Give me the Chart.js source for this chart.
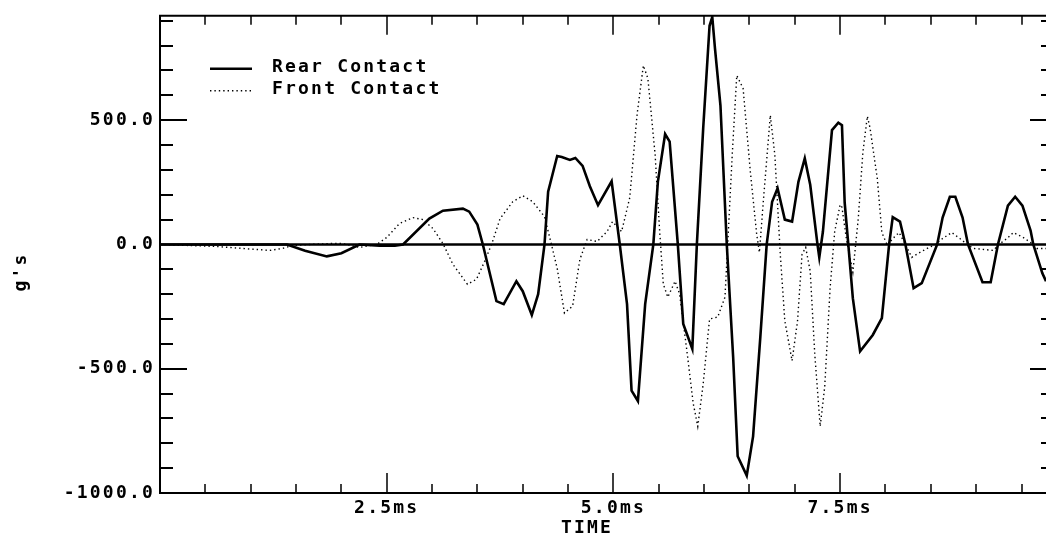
<!DOCTYPE html>
<html>
<head>
<meta charset="utf-8">
<script src="https://cdn.jsdelivr.net/npm/chart.js@4"></script>
<style>
  html, body { margin: 0; padding: 0; background: #fff; }
  canvas { display: block; }
</style>
</head>
<body>
<canvas id="chart" width="1046" height="541"></canvas>
<script>
// values (time in ms, acceleration in g's)
const rearTime = [0, 1.40, 1.60, 1.84, 2.00, 2.20, 2.42, 2.59, 2.68, 2.97, 3.12, 3.34, 3.41, 3.50, 3.56,
  3.71, 3.79, 3.93, 4.00, 4.10, 4.17, 4.24, 4.28, 4.38, 4.43, 4.52, 4.58, 4.66, 4.74, 4.83, 4.98,
  5.07, 5.15, 5.20, 5.27, 5.35, 5.44, 5.49, 5.57, 5.62, 5.71, 5.77, 5.87, 5.92, 5.99, 6.06, 6.09,
  6.12, 6.18, 6.25, 6.32, 6.37, 6.47, 6.54, 6.62, 6.69, 6.75, 6.81, 6.89, 6.97, 7.04, 7.11, 7.17,
  7.25, 7.27, 7.31, 7.41, 7.48, 7.52, 7.55, 7.59, 7.64, 7.72, 7.86, 7.96, 8.04, 8.08, 8.16, 8.22,
  8.31, 8.40, 8.57, 8.63, 8.71, 8.77, 8.85, 8.91, 9.07, 9.16, 9.24, 9.35, 9.43, 9.51, 9.60, 9.63,
  9.73, 9.77]
const rearG = [0, 0, -25, -48, -35, 0, -5, -5, 0, 104, 136, 144, 132, 80, 0,
  -228, -240, -148, -188, -284, -200, 0, 212, 356, 352, 340, 348, 316, 234, 158, 254,
  0, -240, -588, -630, -240, 0, 252, 444, 414, 0, -320, -420, 0, 468, 880, 915,
  788, 560, 0, -452, -852, -930, -772, -372, 0, 172, 226, 100, 92, 252, 346, 240,
  0, -52, 52, 460, 490, 480, 168, 0, -216, -430, -364, -296, 0, 110, 92, 0,
  -176, -156, 0, 108, 192, 192, 108, 0, -152, -152, 0, 156, 192, 156, 56, 0,
  -116, -148]

const frontTime = [0, 0.62, 0.91, 1.21, 1.35, 1.46, 1.65, 1.90, 2.01, 2.20, 2.39, 2.50, 2.64, 2.79, 2.90,
  3.01, 3.12, 3.23, 3.39, 3.49, 3.58, 3.66, 3.75, 3.89, 4.00, 4.11, 4.24, 4.30, 4.38, 4.46, 4.55,
  4.63, 4.71, 4.82, 4.93, 4.99, 5.09, 5.18, 5.26, 5.33, 5.38, 5.46, 5.51, 5.55, 5.60, 5.68, 5.73,
  5.81, 5.88, 5.93, 5.99, 6.06, 6.15, 6.23, 6.26, 6.31, 6.36, 6.43, 6.51, 6.58, 6.61, 6.65, 6.73,
  6.78, 6.84, 6.89, 6.97, 7.03, 7.08, 7.12, 7.17, 7.22, 7.28, 7.33, 7.39, 7.44, 7.50, 7.52, 7.57,
  7.64, 7.70, 7.75, 7.80, 7.83, 7.91, 7.96, 8.02, 8.08, 8.15, 8.22, 8.29, 8.36, 8.46, 8.55, 8.63,
  8.73, 8.82, 8.90, 8.97, 9.19, 9.25, 9.34, 9.41, 9.52, 9.60, 9.67, 9.77]
const frontG = [0, -8, -16, -24, -16, -4, 0, 4, 4, -12, 0, 28, 84, 108, 100,
  64, 4, -80, -160, -140, -68, 4, 104, 172, 196, 172, 112, 24, -96, -276, -248,
  -60, 20, 12, 52, 92, 52, 188, 520, 720, 668, 360, 52, -160, -212, -148, -200,
  -428, -640, -732, -560, -300, -292, -212, 0, 360, 680, 628, 292, 40, -32, 160, 520,
  360, -40, -308, -468, -308, -40, -12, -108, -440, -732, -572, -172, 52, 160, 150, 20,
  -112, 104, 368, 516, 468, 264, 48, -4, 24, 48, 0, -52, -36, -16, 0, 24,
  48, 24, 0, -16, -24, 0, 24, 48, 28, 8, -16, -16]

const seriesNames = ['Rear Contact', 'Front Contact']
const xTickValues = [2.5, 5.0, 7.5]
const yTickValues = [-1000, -500, 0, 500]
const xMinorStep = 0.5
const yMinorStep = 100

const FONT = "'DejaVu Sans Mono', 'Liberation Mono', monospace"
const SPACING = '2.2px'

function toPoints(xs, ys) {
  return xs.map((x, i) => ({x: x, y: ys[i]}))
}

// tick marks, frame and zero line, drawn from the scales
const framePlugin = {
  id: 'frame',
  beforeDraw(chart) {
    chart.ctx.letterSpacing = SPACING
  },
  afterDatasetsDraw(chart) {
    const ctx = chart.ctx
    const a = chart.chartArea
    const xs = chart.scales.x
    const ys = chart.scales.y
    ctx.save()
    ctx.strokeStyle = '#000'
    ctx.lineCap = 'butt'

    // zero line
    const y0 = ys.getPixelForValue(0)
    ctx.lineWidth = 2.5
    ctx.beginPath()
    ctx.moveTo(a.left, y0)
    ctx.lineTo(a.right, y0)
    ctx.stroke()

    // frame
    ctx.lineWidth = 2
    ctx.beginPath()
    ctx.moveTo(a.right, a.top)
    ctx.lineTo(a.left, a.top)
    ctx.lineTo(a.left, a.bottom)
    ctx.lineTo(a.right, a.bottom)
    ctx.stroke()

    // x ticks (top and bottom, pointing inward)
    ctx.lineWidth = 1.5
    for (let v = xMinorStep; v < xs.max; v += xMinorStep) {
      const px = Math.round(xs.getPixelForValue(v))
      const major = xTickValues.some(t => Math.abs(t - v) < 1e-6)
      ctx.beginPath()
      ctx.moveTo(px, a.top)
      ctx.lineTo(px, a.top + (major ? 19 : 9))
      ctx.moveTo(px, a.bottom)
      ctx.lineTo(px, a.bottom - (major ? 20 : 9))
      ctx.stroke()
    }

    // y ticks (left and right)
    ctx.lineWidth = 2
    for (let v = ys.min + yMinorStep; v < ys.max; v += yMinorStep) {
      if (Math.abs(v) < 1e-6) continue
      const py = Math.round(ys.getPixelForValue(v))
      const major = yTickValues.some(t => Math.abs(t - v) < 1e-6)
      ctx.beginPath()
      ctx.moveTo(a.left, py)
      ctx.lineTo(a.left + (major ? 27 : 13), py)
      ctx.moveTo(a.right, py)
      ctx.lineTo(a.right - (major ? 16 : 5), py)
      ctx.stroke()
    }
    ctx.restore()
  },
  afterDraw(chart) {
    const ctx = chart.ctx
    const a = chart.chartArea
    ctx.save()
    ctx.fillStyle = '#000'
    ctx.font = 'bold 18px ' + FONT
    ctx.letterSpacing = SPACING
    ctx.textBaseline = 'middle'

    // legend inside the plot
    chart.data.datasets.forEach((ds, i) => {
      const y = a.top + 52 + i * 22
      ctx.save()
      ctx.strokeStyle = ds.borderColor
      ctx.lineWidth = ds.borderWidth
      ctx.setLineDash(ds.borderDash || [])
      ctx.beginPath()
      ctx.moveTo(a.left + 50, y + 1)
      ctx.lineTo(a.left + 92, y + 1)
      ctx.stroke()
      ctx.restore()
      ctx.textAlign = 'left'
      ctx.fillText(ds.label, a.left + 112, y)
    })

    // axis titles
    ctx.textAlign = 'center'
    ctx.fillText('TIME', 587, 528)
    ctx.save()
    ctx.translate(21, 272)
    ctx.rotate(-Math.PI / 2)
    ctx.fillText("g's", 0, 0)
    ctx.restore()
    ctx.restore()
  }
}

const ctx = document.getElementById('chart').getContext('2d')
new Chart(ctx, {
  type: 'line',
  data: {
    datasets: [{
      label: seriesNames[0],
      data: toPoints(rearTime, rearG),
      borderColor: '#000',
      borderWidth: 2.6,
      pointRadius: 0,
      tension: 0
    }, {
      label: seriesNames[1],
      data: toPoints(frontTime, frontG),
      borderColor: '#000',
      borderWidth: 1.4,
      borderDash: [1.4, 3],
      pointRadius: 0,
      tension: 0
    }]
  },
  options: {
    responsive: false,
    animation: false,
    devicePixelRatio: 1,
    layout: {padding: {top: 12, right: 0, left: 0, bottom: 0}},
    plugins: {
      legend: {display: false},
      tooltip: {enabled: false}
    },
    scales: {
      x: {
        type: 'linear',
        min: 0,
        max: 9.77,
        grid: {display: false, drawTicks: false},
        border: {display: false},
        afterBuildTicks: (scale) => { scale.ticks = xTickValues.map(v => ({value: v})) },
        afterFit: (scale) => { scale.height = 48 },
        ticks: {
          color: '#000',
          padding: 5,
          maxRotation: 0,
          font: {family: FONT, weight: 'bold', size: 18},
          callback: (v) => Number(v).toFixed(1) + 'ms'
        }
      },
      y: {
        min: -1000,
        max: 920,
        grid: {display: false, drawTicks: false},
        border: {display: false},
        afterBuildTicks: (scale) => { scale.ticks = yTickValues.map(v => ({value: v})) },
        afterFit: (scale) => { scale.width = 160 },
        ticks: {
          color: '#000',
          padding: 5,
          font: {family: FONT, weight: 'bold', size: 18},
          callback: (v) => Number(v).toFixed(1)
        }
      }
    }
  },
  plugins: [framePlugin]
})
</script>
</body>
</html>
